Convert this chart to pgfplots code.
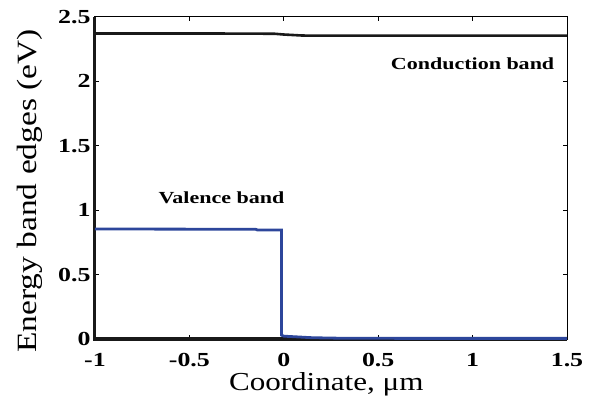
\documentclass[border=0pt]{standalone}
\usepackage{fontspec}
\setmainfont{Liberation Serif}
\newfontfamily\wide[FakeStretch=1.3]{Liberation Serif}
\newfontfamily\widelab[FakeStretch=1.2]{Liberation Serif}
\usepackage{pgfplots}
\pgfplotsset{compat=1.18}
\definecolor{vb}{RGB}{45,70,155}
\definecolor{cb}{RGB}{25,25,25}
\begin{document}
\begin{tikzpicture}
\begin{axis}[
  at={(0,0)}, anchor=south west,
  scale only axis, width=472bp, height=322bp,
  xmin=-1, xmax=1.5, ymin=0, ymax=2.5,
  xtick={-1,-0.5,0,0.5,1,1.5},
  xticklabels={-1,-0.5,0,0.5,1,1.5},
  ytick={0,0.5,1,1.5,2,2.5},
  yticklabels={0,0.5,1,1.5,2,2.5},
  tick align=inside,
  major tick length=4bp,
  tick style={black, line width=1bp},
  axis line style={line width=1bp, black},
  ticklabel style={font=\wide\bfseries\fontsize{20}{20}\selectfont},
  xticklabel style={yshift=-11bp},
  yticklabel style={xshift=-1bp},
  xlabel={Coordinate, μm},
  ylabel={Energy band edges (eV)},
  xlabel style={font=\widelab\fontsize{26}{26}\selectfont, at={(axis description cs:0.49,0)}, anchor=center, yshift=-45bp},
  ylabel style={font=\widelab\fontsize{28}{28}\selectfont, at={([xshift=-65bp]axis description cs:0,0.46)}, anchor=center},
  clip=false,
]
\draw[line width=3bp, black!90] (rel axis cs:0,1) -- (rel axis cs:0,0) -- (rel axis cs:1,0);
\addplot[cb, line width=2.6bp] coordinates {
 (-1,2.372) (-0.4,2.372) (-0.05,2.370) (0.0,2.364) (0.1,2.356) (0.5,2.355) (1.5,2.355)};
\addplot[vb, line width=2.8bp] coordinates {
 (-1,0.854) (-0.15,0.852) (-0.14,0.847) (-0.012,0.846) (-0.012,0.03) (0.0,0.022) (0.05,0.018) (0.15,0.010) (0.3,0.006) (0.6,0.005) (1.5,0.005)};
\node[font=\wide\bfseries\fontsize{17}{17}\selectfont] at (axis cs:1.0,2.14) {Conduction band};
\node[font=\wide\bfseries\fontsize{17}{17}\selectfont] at (axis cs:-0.33,1.095) {Valence band};
\end{axis}
\pgfresetboundingbox
\useasboundingbox (-95bp,-65bp) rectangle (507bp,339bp);
\end{tikzpicture}
\end{document}
